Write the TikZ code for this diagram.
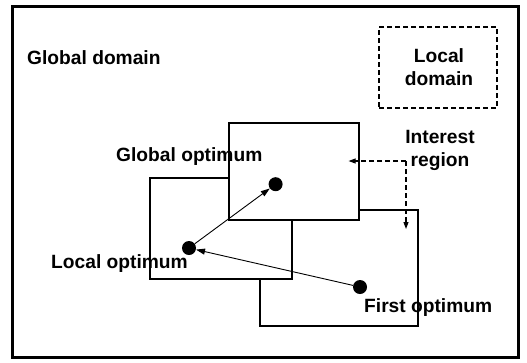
\documentclass[tikz,border=0pt]{standalone}
\usepackage{fontspec}
\setmainfont{Liberation Sans}
\usetikzlibrary{arrows.meta}
\begin{document}
\begin{tikzpicture}[x=1pt,y=-1pt,
  lbl/.style={font=\fontsize{19.2}{22.5}\selectfont\bfseries, inner sep=0pt},
  region/.style={draw, fill=white, line width=1.1pt, inner sep=0pt},
  optdot/.style={circle, fill=black, inner sep=0pt, minimum size=14pt},
  move/.style={line width=0.9pt, -{Triangle[length=9pt,width=6pt]}},
  hint/.style={line width=1.1pt, dash pattern=on 5pt off 3pt, -{Triangle[length=7pt,width=5pt]}}]
  \useasboundingbox (0,0) rectangle (527,362);
  % outer frame of the global domain
  \draw[line width=3pt] (12.5,6) rectangle (518,357);
  \node[lbl, anchor=base west] (gdom) at (27,64) {Global domain};
  % local domain legend
  \node[draw, line width=1.2pt, dash pattern=on 5pt off 3pt, minimum width=118pt, minimum height=81pt, inner sep=0pt] (ldombox) at (438,67.5) {};
  \node[lbl, align=center] (ldom) at (439,67) {Local\\domain};
  % overlapping search regions (back to front)
  \node[region, minimum width=158pt, minimum height=116pt] (rc) at (339,268) {};
  \node[region, minimum width=142pt, minimum height=101pt] (rb) at (221,228.5) {};
  \node[region, minimum width=130pt, minimum height=97pt] (ra) at (294,171.5) {};
  % optima
  \node[optdot] (gopt) at (275.6,184.2) {};
  \node[optdot] (lopt) at (189,248) {};
  \node[optdot] (fopt) at (360,287) {};
  \node[lbl, anchor=base west] (goptl) at (116,161) {Global optimum};
  \node[lbl, anchor=base west] (loptl) at (51,268) {Local optimum};
  \node[lbl, anchor=base west] (foptl) at (364,312) {First optimum};
  % search moves
  \draw[move] (fopt) -- (lopt);
  \draw[move] (lopt) -- (gopt);
  % interest region pointers
  \node[lbl, align=center] (intr) at (440,150.3) {Interest\\region};
  \coordinate (corner) at (406,161);
  \coordinate (inA) at (348.6,161);
  \coordinate (inC) at (406,229);
  \draw[hint] (corner) -- (inA);
  \draw[hint] (corner) -- (inC);
\end{tikzpicture}
\end{document}
